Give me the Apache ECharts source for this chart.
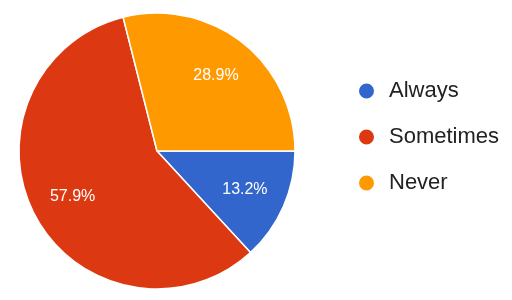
<!DOCTYPE html>
<html><head><meta charset="utf-8">
<script src="https://cdn.jsdelivr.net/npm/echarts@6/dist/echarts.min.js"></script>
<style>html,body{margin:0;padding:0;background:#fff}#c{width:512px;height:300px}</style>
</head><body><div id="c"></div>
<script>
const categories = ['Always', 'Sometimes', 'Never'];
const counts = [5, 22, 11];
const colors = ['#3366cc', '#dc3912', '#ff9900'];

const data = categories.map((n, i) => ({ name: n, value: counts[i] }));
const font = '"Liberation Sans", Arial, sans-serif';
const chart = echarts.init(document.getElementById('c'), null, { renderer: 'canvas' });
chart.setOption({
  animation: false,
  color: colors,
  legend: {
    orient: 'vertical', left: 357, top: 80, padding: 0,
    icon: 'circle', itemWidth: 17, itemHeight: 17, itemGap: 24,
    data: categories,
    textStyle: { fontFamily: font, fontSize: 22, color: '#222', lineHeight: 22, padding: [0, 0, 0, 9] }
  },
  series: [{
    type: 'pie', center: [157, 151], radius: [0, 138], startAngle: 0, clockwise: true,
    data: data, silent: true,
    itemStyle: { borderColor: '#fff', borderWidth: 1.5 },
    label: { show: false }, labelLine: { show: false }
  }, {
    type: 'pie', center: [157, 151], radius: [48, 138], startAngle: 0, clockwise: true,
    data: data, silent: true, legendHoverLink: false,
    itemStyle: { color: 'rgba(0,0,0,0)', borderWidth: 0 },
    label: { show: true, position: 'inside', color: '#fff', fontFamily: font, fontSize: 16,
      formatter: p => p.percent.toFixed(1) + '%' },
    labelLine: { show: false }
  }]
});
</script></body></html>
